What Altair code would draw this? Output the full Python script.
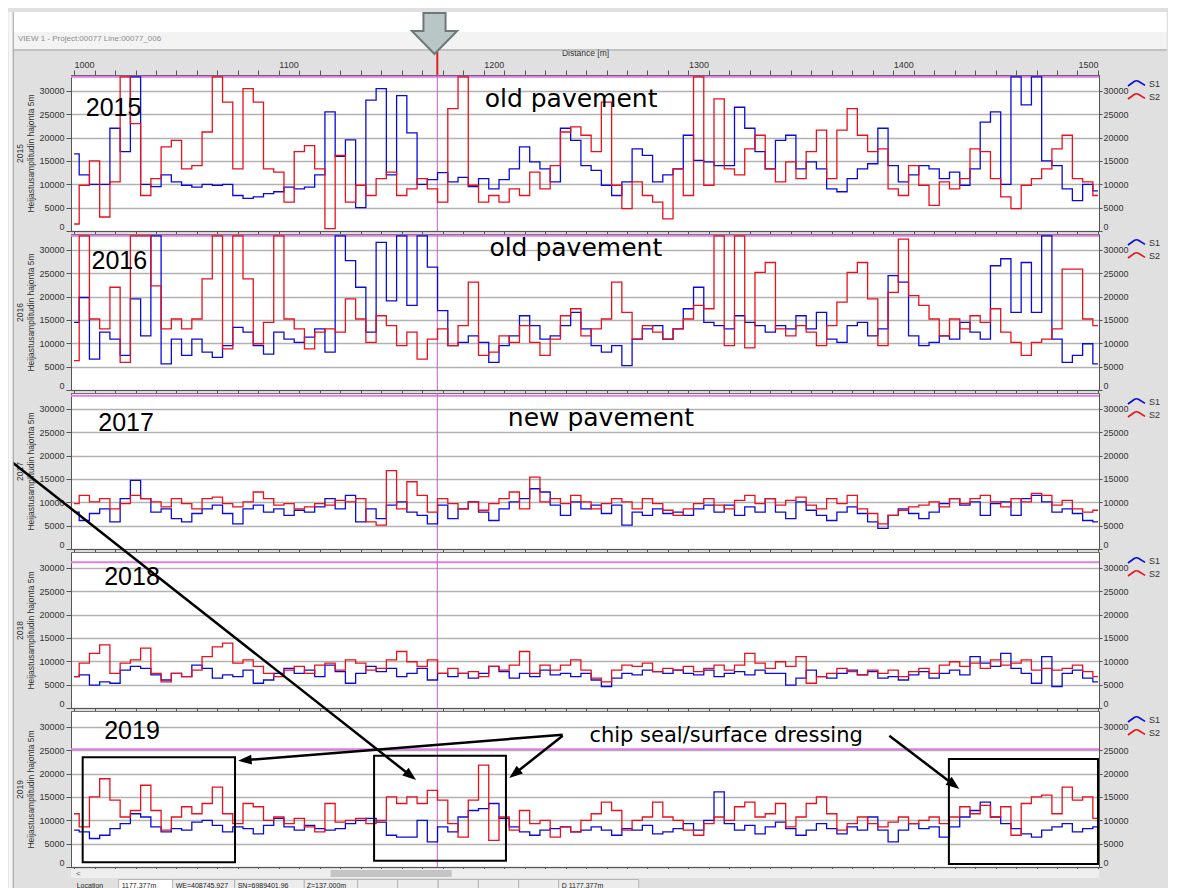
import math
import altair as alt
import pandas as pd

# ---------------- data (5 m sampling) ----------------
distance = [1000 + 5 * i for i in range(101)]

s1_2015 = [16500, 12000, 10000, 10000, 22000, 17000, 33000, 10000, 9500, 12000,
           10500, 9800, 9400, 10000, 9800, 10000, 7600, 7000, 7300, 8000,
           8400, 9400, 9000, 9400, 12000, 25500, 16000, 19500, 5000, 28000,
           30500, 12000, 29000, 21000, 10000, 11000, 12500, 10500, 11500, 9500,
           11200, 9000, 11000, 13300, 18000, 14800, 13300, 10500, 22000, 19400,
           14000, 13000, 9800, 7600, 10500, 17600, 16200, 10500, 12000, 13300,
           20500, 15100, 14800, 14000, 14000, 26500, 22000, 17000, 13300, 19400,
           20500, 13300, 14800, 13300, 9000, 8400, 11200, 13300, 14400, 22000,
           14000, 10500, 12000, 14000, 13300, 11200, 12600, 9800, 13300, 23300,
           25500, 10000, 33000, 27000, 33000, 15000, 14000, 9000, 6500, 10000,
           8600]
s2_2015 = [1500, 9800, 15000, 3000, 10500, 33000, 23000, 7600, 11200, 18000,
           19400, 13300, 14000, 21200, 33000, 27600, 13300, 30500, 27600, 13300,
           12600, 6200, 17000, 18300, 13300, 500, 16200, 6200, 9800, 7600,
           11200, 12600, 7600, 9000, 11200, 9000, 6200, 26200, 33000, 9800,
           6200, 7600, 6200, 9000, 7600, 12600, 9000, 14000, 21200, 22300,
           20500, 17000, 27600, 9800, 4800, 10500, 7600, 6200, 2600, 13300,
           7600, 33000, 9800, 28300, 13300, 12000, 17600, 20500, 13300, 10500,
           14800, 11200, 17000, 21600, 11200, 21600, 26200, 20500, 17000, 17600,
           9000, 7600, 14000, 9800, 5500, 10500, 9000, 11200, 17600, 17000,
           11200, 7300, 4800, 9800, 11200, 13300, 17600, 20500, 11200, 10500,
           7600]
s1_2016 = [14500, 19800, 6600, 12400, 10900, 7400, 19500, 11600, 33000, 5600,
           10900, 7400, 10900, 8100, 7000, 9500, 13400, 12400, 9500, 7700,
           12400, 10900, 10200, 11300, 13100, 8100, 33000, 27700, 22000, 12400,
           31600, 19100, 33000, 18100, 33000, 26300, 17000, 9500, 10200, 11600,
           10200, 5900, 9500, 11600, 15900, 13800, 10900, 11600, 13800, 16600,
           13100, 9500, 8100, 9500, 5200, 10900, 13100, 13800, 10900, 13100,
           17400, 22000, 14500, 13800, 13100, 15900, 14500, 13800, 12400, 13800,
           13100, 15900, 13100, 16600, 10900, 10200, 13800, 14500, 11600, 13100,
           24500, 23100, 11600, 9500, 10200, 11600, 10900, 14500, 12400, 10900,
           26600, 28100, 16600, 27300, 16600, 33000, 10900, 5900, 7400, 9900,
           5600]
s2_2016 = [6300, 33000, 15200, 13100, 22000, 5900, 33000, 33000, 22300, 13100,
           15200, 13100, 15200, 23800, 33000, 8800, 33000, 23800, 9900, 14500,
           33000, 15200, 13100, 8800, 12400, 13100, 12400, 19500, 15200, 10200,
           15900, 13800, 9500, 12400, 6600, 10900, 13100, 9500, 13800, 23100,
           7400, 8100, 11600, 10200, 13800, 10200, 7400, 10900, 15900, 17400,
           11600, 13100, 15200, 23100, 16600, 10900, 13800, 12400, 10900, 13100,
           15200, 18100, 17400, 33000, 9500, 33000, 9000, 25200, 27300, 13100,
           11600, 13800, 12400, 9500, 13800, 18800, 25200, 27300, 19500, 9500,
           20900, 32300, 20200, 18100, 15200, 11600, 15200, 13100, 15900, 14500,
           17400, 12400, 10200, 7400, 10200, 10900, 13100, 25900, 25900, 15200,
           13800]
s1_2017 = [7900, 6100, 7600, 8600, 5800, 10800, 14700, 10800, 7900, 8600,
           6500, 5800, 7600, 8600, 9400, 7600, 5400, 8600, 9400, 7900,
           8600, 7200, 8300, 7900, 9000, 10800, 8600, 11500, 5800, 8600,
           6500, 9400, 10100, 7900, 7200, 5400, 9400, 6500, 8600, 10100,
           7900, 6100, 8600, 10100, 10800, 12900, 12200, 9400, 7200, 10100,
           8600, 9400, 7600, 9400, 5100, 7900, 7200, 8600, 7600, 7900,
           7200, 8600, 9400, 7900, 9400, 7200, 9000, 7900, 10800, 7900,
           6500, 10100, 8300, 7200, 6100, 7900, 9000, 7600, 5800, 4400,
           7200, 8600, 7600, 6500, 7900, 9700, 10800, 9400, 10100, 7200,
           9700, 10100, 7200, 10800, 11500, 10100, 7900, 8600, 7600, 6100,
           5800]
s2_2017 = [9700, 11500, 10100, 10800, 8600, 9700, 11500, 10800, 10100, 9000,
           10800, 9700, 8600, 10800, 11100, 9700, 9000, 10100, 12200, 10800,
           9400, 9700, 8600, 9000, 9700, 9400, 10400, 10100, 10800, 5800,
           5100, 16800, 8600, 14400, 11500, 7900, 10800, 9700, 8600, 10100,
           8300, 9700, 10800, 12200, 8600, 15400, 10100, 10800, 9700, 11500,
           10100, 8600, 9700, 10800, 10100, 8600, 10800, 9700, 8300, 7200,
           8600, 9700, 10800, 9400, 8600, 10400, 11500, 9700, 10800, 9400,
           10400, 11100, 9400, 8600, 10800, 9700, 11500, 8600, 7600, 5400,
           7200, 8300, 9000, 9400, 10100, 9000, 10800, 9700, 10800, 11500,
           10100, 9000, 10800, 10100, 11900, 11500, 9400, 10400, 8600, 7900,
           8300]
s1_2018 = [6700, 7100, 4900, 5600, 5300, 8100, 8900, 8500, 7100, 6000,
           7400, 6700, 9200, 8500, 6400, 7100, 6700, 8100, 5300, 6000,
           7400, 8500, 7400, 8100, 6700, 9200, 7800, 5300, 7400, 8900,
           7800, 8500, 6700, 7400, 8500, 6000, 7400, 6700, 7400, 6400,
           7400, 8900, 7800, 6400, 7400, 6700, 8100, 7100, 7400, 6700,
           7400, 6000, 4600, 6400, 7400, 7100, 8100, 7800, 7400, 8100,
           7400, 7100, 8100, 6700, 7400, 7800, 7100, 8100, 7400, 7400,
           4900, 6400, 8100, 6700, 6400, 7400, 8100, 7100, 7800, 6400,
           6700, 6000, 7100, 7800, 6400, 7400, 8100, 7100, 11000, 9600,
           8900, 11700, 8500, 7400, 5300, 11000, 4600, 7400, 8100, 6400,
           5600]
s2_2018 = [6700, 9600, 11700, 13500, 7400, 9600, 10300, 12800, 7400, 5600,
           7400, 6700, 8100, 11000, 13100, 13900, 9600, 10300, 8900, 7400,
           6700, 8100, 8900, 7400, 9200, 9600, 8100, 10300, 9600, 8100,
           8500, 10300, 12100, 9900, 8900, 10300, 7400, 8500, 7400, 7800,
           6700, 8900, 8100, 9200, 12100, 7400, 9200, 8100, 9200, 10300,
           8100, 6400, 5600, 8100, 9200, 8900, 9600, 7800, 8500, 8100,
           8900, 7800, 8500, 9200, 8100, 9200, 11700, 9600, 8500, 9900,
           8900, 11000, 5300, 6700, 7400, 8500, 7800, 7100, 8100, 7400,
           8100, 6700, 7800, 8500, 7400, 9200, 9900, 8900, 9600, 8500,
           10300, 9200, 9600, 10300, 8100, 8500, 8100, 8500, 9200, 7800,
           6700]
s1_2019 = [7900, 7500, 6100, 6800, 8200, 9300, 11400, 10700, 8600, 7500,
           8200, 7900, 9600, 10000, 8900, 7500, 8600, 8200, 7100, 8900,
           10400, 8600, 7900, 8900, 8200, 7900, 8200, 9300, 10000, 10400,
           9600, 6800, 6400, 6400, 10000, 5400, 8600, 7500, 10700, 12100,
           12500, 13600, 10400, 8600, 7500, 6800, 7900, 8200, 8600, 7500,
           7900, 8600, 7900, 6800, 8200, 7900, 8900, 7100, 7500, 8200,
           9300, 7900, 10000, 16100, 9300, 7900, 8900, 7100, 8600, 9600,
           8200, 6800, 7900, 9300, 8200, 7100, 8600, 7900, 10700, 7900,
           5400, 7900, 9300, 8200, 8600, 6400, 8600, 10700, 12100, 13900,
           10700, 9300, 8200, 7100, 6400, 7900, 8600, 9300, 7500, 8200,
           8600]
s2_2019 = [11400, 8600, 15000, 18900, 14300, 10700, 12100, 17500, 12100, 7900,
           10700, 12900, 11400, 13600, 17100, 11400, 9300, 13600, 12900, 10000,
           10700, 9300, 10400, 8600, 7500, 13600, 9600, 10000, 10400, 9300,
           10000, 15000, 13600, 15000, 13600, 16400, 14300, 9300, 6400, 14300,
           21800, 5700, 10700, 7900, 12100, 9300, 10000, 6400, 8600, 7500,
           10000, 11400, 13900, 12100, 7900, 10000, 10700, 13900, 10700, 10000,
           7900, 6800, 9300, 10700, 10000, 12900, 13900, 10700, 11400, 13600,
           8600, 10700, 13600, 15000, 11400, 7900, 9300, 10700, 9300, 8600,
           9600, 10700, 9300, 10000, 10700, 9300, 10700, 12900, 11400, 13200,
           10700, 12900, 6800, 13600, 15000, 15400, 11400, 17100, 14300, 15000,
           10400]

years = ["2015", "2016", "2017", "2018", "2019"]
series_s1 = [s1_2015, s1_2016, s1_2017, s1_2018, s1_2019]
series_s2 = [s2_2015, s2_2016, s2_2017, s2_2018, s2_2019]
thresholds = [33000, 33000, 32800, 31200, 25200]
y_ticks = [0, 5000, 10000, 15000, 20000, 25000, 30000]
x_ticks = list(range(1000, 1501, 10))
cursor_m = 1177.377
series_names = ["S1", "S2"]

# annotation texts: (text, distance m, amplitude, font size, font)
notes = [
    [("2015", 1019.3, 24690, 25, "Liberation Sans"), ("old pavement", 1242.7, 26480, 25, "DejaVu Sans")],
    [("2016", 1022.1, 25900, 25, "Liberation Sans"), ("old pavement", 1245.0, 28750, 25, "DejaVu Sans")],
    [("2017", 1025.4, 25330, 25, "Liberation Sans"), ("new pavement", 1257.3, 26400, 25, "DejaVu Sans")],
    [("2018", 1028.3, 26330, 25, "Liberation Sans")],
    [("2019", 1028.3, 27400, 25, "Liberation Sans"),
     ("chip seal/surface dressing", 1318.4, 26700, 21, "DejaVu Sans")],
]
# boxes in the 2019 panel: (m0, m1, v0, v1)
boxes_2019 = [(1004.2, 1078.6, 1000, 23490), (1146.5, 1210.9, 1350, 23830), (1427.2, 1500.0, 640, 23120)]
# arrows in the 2019 panel: (m start, v start, m tip, v tip)
arrows_2019 = [(1238.6, 28325, 1080.1, 22760), (1238.6, 28110, 1212.5, 19055),
               (1398.1, 28110, 1432.3, 16700), (969.0, 86925, 1167.0, 18627)]

# ---------------- styling ----------------
W, H = 1028, 156
X_DOMAIN = [998.5, 1500.5]
Y_DOMAIN = [0, 33400]
PX_M = W / (X_DOMAIN[1] - X_DOMAIN[0])
PX_V = H / (Y_DOMAIN[1] - Y_DOMAIN[0])
XS = alt.Scale(domain=X_DOMAIN, nice=False, zero=False)
YS = alt.Scale(domain=Y_DOMAIN, nice=False, zero=False)
COLS = alt.Scale(domain=series_names, range=["#0b0bd9", "#e8111c"])
LBL = "Liberation Sans"
TXT = "#333333"
AX = "#555555"

LEG_SYM = "M-1.55,0.45 L-0.35,-0.4 Q0,-0.6 0.35,-0.4 L1.55,0.35"
HEAD = "M0,0 L0.5,1.35 L-0.5,1.35 Z"
DOWN_ARROW = "M-0.54,-1 L0.54,-1 L0.54,-0.12 L1.1,-0.12 L0,1 L-1.1,-0.12 L-0.54,-0.12 Z"

dummy = pd.DataFrame({"d": [0]})


def left_axis(year):
    return alt.Axis(orient="left", values=y_ticks, format="d", title=[year, "Heijastusamplitudin hajonta 5m"],
                    titleFont=LBL, titleFontSize=8.5, titleFontWeight="normal", titleColor=TXT,
                    titlePadding=3, titleLineHeight=11, labelFont=LBL, labelFontSize=9,
                    labelColor=TXT, labelPadding=2, tickSize=5, tickColor=AX, domainColor=AX,
                    grid=True, gridColor="#b2b2b2", gridWidth=1.5, labelFlush=True)


right_axis = alt.Axis(orient="right", values=y_ticks, format="d", title=None, labelFont=LBL,
                      labelFontSize=9, labelColor=TXT, labelPadding=1, tickSize=3, tickColor=AX,
                      domainColor=AX, grid=False, labelFlush=True)
bottom_axis = alt.Axis(orient="bottom", values=x_ticks, labels=False, title=None, tickSize=3,
                       tickColor=AX, domainColor=AX, grid=False)
top_axis = alt.Axis(orient="top", values=x_ticks, title="Distance [m]", titleFont=LBL,
                    titleFontSize=8.5, titleFontWeight="normal", titleColor=TXT, titlePadding=3,
                    labelExpr="datum.value % 100 === 0 ? datum.value : ''", labelFont=LBL,
                    labelFontSize=9, labelColor=TXT, labelPadding=1, labelOverlap=False,
                    labelAlign={"condition": {"test": "datum.value >= 1500", "value": "right"}, "value": "left"},
                    tickSize=5, tickColor=AX, domainColor=AX, grid=False)

legend = alt.Legend(title=None, orient="none", legendX=1059, legendY=2, symbolType=LEG_SYM,
                    symbolSize=121, symbolStrokeWidth=1.6, labelFont=LBL, labelFontSize=9,
                    labelColor=TXT, labelOffset=6, rowPadding=0, padding=0)


def deco_rect(x, x2, y, y2, **kw):
    return alt.Chart(dummy).mark_rect(**kw).encode(
        x=alt.value(x), x2=alt.value(x2), y=alt.value(y), y2=alt.value(y2))


def deco_rule(x, x2, y, y2, **kw):
    return alt.Chart(dummy).mark_rule(**kw).encode(
        x=alt.value(x), x2=alt.value(x2), y=alt.value(y), y2=alt.value(y2))


def deco_text(x, y, text, **kw):
    return alt.Chart(dummy).mark_text(text=text, **kw).encode(x=alt.value(x), y=alt.value(y))


def note_layer(text, xm, yv, size, font):
    df = pd.DataFrame({"x": [xm], "y": [yv], "t": [text]})
    return alt.Chart(df).mark_text(fontSize=size, font=font, color="black", align="center",
                                   baseline="alphabetic").encode(
        x=alt.X("x:Q", scale=XS, axis=None), y=alt.Y("y:Q", scale=YS, axis=None), text="t:N")


def panel(i):
    year = years[i]
    first, last = i == 0, i == len(years) - 1
    df = pd.DataFrame({
        "x": distance + distance,
        "v": series_s1[i] + series_s2[i],
        "s": [series_names[0]] * len(distance) + [series_names[1]] * len(distance),
    })
    thr = alt.Chart(pd.DataFrame({"t": [thresholds[i]]})).mark_rule(
        color="#df7ee3", strokeWidth=2).encode(y=alt.Y("t:Q", scale=YS, axis=right_axis))
    cur = alt.Chart(pd.DataFrame({"cx": [cursor_m]})).mark_rule(
        color="#c95ccb", strokeWidth=1).encode(
        x=alt.X("cx:Q", scale=XS, axis=bottom_axis if first else None))
    lines = alt.Chart(df).mark_line(strokeWidth=1.3, clip=True, interpolate="step").encode(
        x=alt.X("x:Q", scale=XS, axis=top_axis if first else bottom_axis),
        y=alt.Y("v:Q", scale=YS, axis=left_axis(year)),
        color=alt.Color("s:N", scale=COLS, legend=legend),
    )
    layers = []
    if first:
        layers += [
            deco_rect(-62.3, 1095.7, -63, -43, fill="white"),
            deco_rect(-62.3, 1095.7, -43, -26, fill="#f3f3f3"),
            deco_rule(-57, 1095.7, -25, -25, color="#a5a5a5", strokeWidth=1),
            deco_text(-53, -36, "VIEW 1 - Project:00077 Line:00077_006", fontSize=8, font=LBL,
                      color="#8c8c8c", align="left", baseline="middle"),
        ]
    layers += [thr, cur, lines]
    for (t, xm, yv, size, font) in notes[i]:
        layers.append(note_layer(t, xm, yv, size, font))
    if first:
        layers += [
            deco_rule(366.3, 366.3, -23, 0, color="#e02020", strokeWidth=2),
            alt.Chart(dummy).mark_point(shape=DOWN_ARROW, size=1681, filled=True, fill="#bac6c5",
                                        stroke="#6b7a79", strokeWidth=2, opacity=1).encode(
                x=alt.value(363.5), y=alt.value(-41.5)),
        ]
    if last:
        bdf = pd.DataFrame(boxes_2019, columns=["x", "x2", "y", "y2"])
        layers.append(alt.Chart(bdf).mark_rect(filled=False, stroke="black", strokeWidth=2).encode(
            x=alt.X("x:Q", scale=XS, axis=None), x2="x2:Q",
            y=alt.Y("y:Q", scale=YS, axis=None), y2="y2:Q"))
        rows = []
        for (x0, y0, x1, y1) in arrows_2019:
            dx = (x1 - x0) * PX_M
            dy = -(y1 - y0) * PX_V
            length = math.hypot(dx, dy)
            k = (length - 8) / length
            rows.append({"x": x0, "y": y0, "x2": x0 + (x1 - x0) * k, "y2": y0 + (y1 - y0) * k,
                         "tx": x1, "ty": y1, "a": math.degrees(math.atan2(dx, -dy)) % 360})
        adf = pd.DataFrame(rows)
        layers.append(alt.Chart(adf).mark_rule(color="black", strokeWidth=2.5).encode(
            x=alt.X("x:Q", scale=XS, axis=None), x2="x2:Q",
            y=alt.Y("y:Q", scale=YS, axis=None), y2="y2:Q"))
        layers.append(alt.Chart(adf).mark_point(shape=HEAD, size=400, filled=True, color="black",
                                                opacity=1).encode(
            x=alt.X("tx:Q", scale=XS, axis=None), y=alt.Y("ty:Q", scale=YS, axis=None),
            angle=alt.Angle("a:Q", scale=None)))
        # left UI strip and status bar
        layers += [
            deco_rect(-62.3, -57.8, -699, 193, fill="#f7f7f7"),
            deco_rule(-57.8, -57.8, -699, 193, color="#9a9a9a", strokeWidth=1),
            deco_rect(0, 1028, 158, 167, fill="#eeeeee"),
            deco_rect(259.7, 380.7, 159, 166, fill="#c4c4c4"),
            deco_text(5, 162.5, "<", fontSize=8, font=LBL, color="#555555", align="left", baseline="middle"),
        ]
        status_boxes = [(118, 172), (172, 234), (234, 303.6), (303.6, 357), (357, 397),
                        (397, 437.5), (437.5, 477.7), (477.7, 518), (518, 558), (558, 638)]
        for j, (a, b) in enumerate(status_boxes):
            layers.append(deco_rect(a - 70.3, b - 70.3, 168.5, 181,
                                    fill="white" if j == 0 else "#ececec", stroke="#b4b4b4", strokeWidth=1))
        for (px, t) in [(76, "Location"), (121, "1177,377m"), (175, "WE=408745,927"),
                        (237, "SN=6989401,96"), (306, "Z=137,000m"), (561, "D 1177,377m")]:
            layers.append(deco_text(px - 70.3, 174.5, t, fontSize=7, font=LBL, color="#222222",
                                    align="left", baseline="middle"))
    return alt.layer(*layers).resolve_axis(x="independent", y="independent").properties(
        width=W, height=H)


panels = [panel(i) for i in range(len(years))]
chart = alt.vconcat(*panels, spacing=3, bounds="flush", padding=0).resolve_scale(
    color="independent").configure(background="#e0e0e0").configure_view(
    fill="white", stroke="#707070", strokeWidth=1)

chart.save("out.html", embed_options={"renderer": "svg", "actions": False})
